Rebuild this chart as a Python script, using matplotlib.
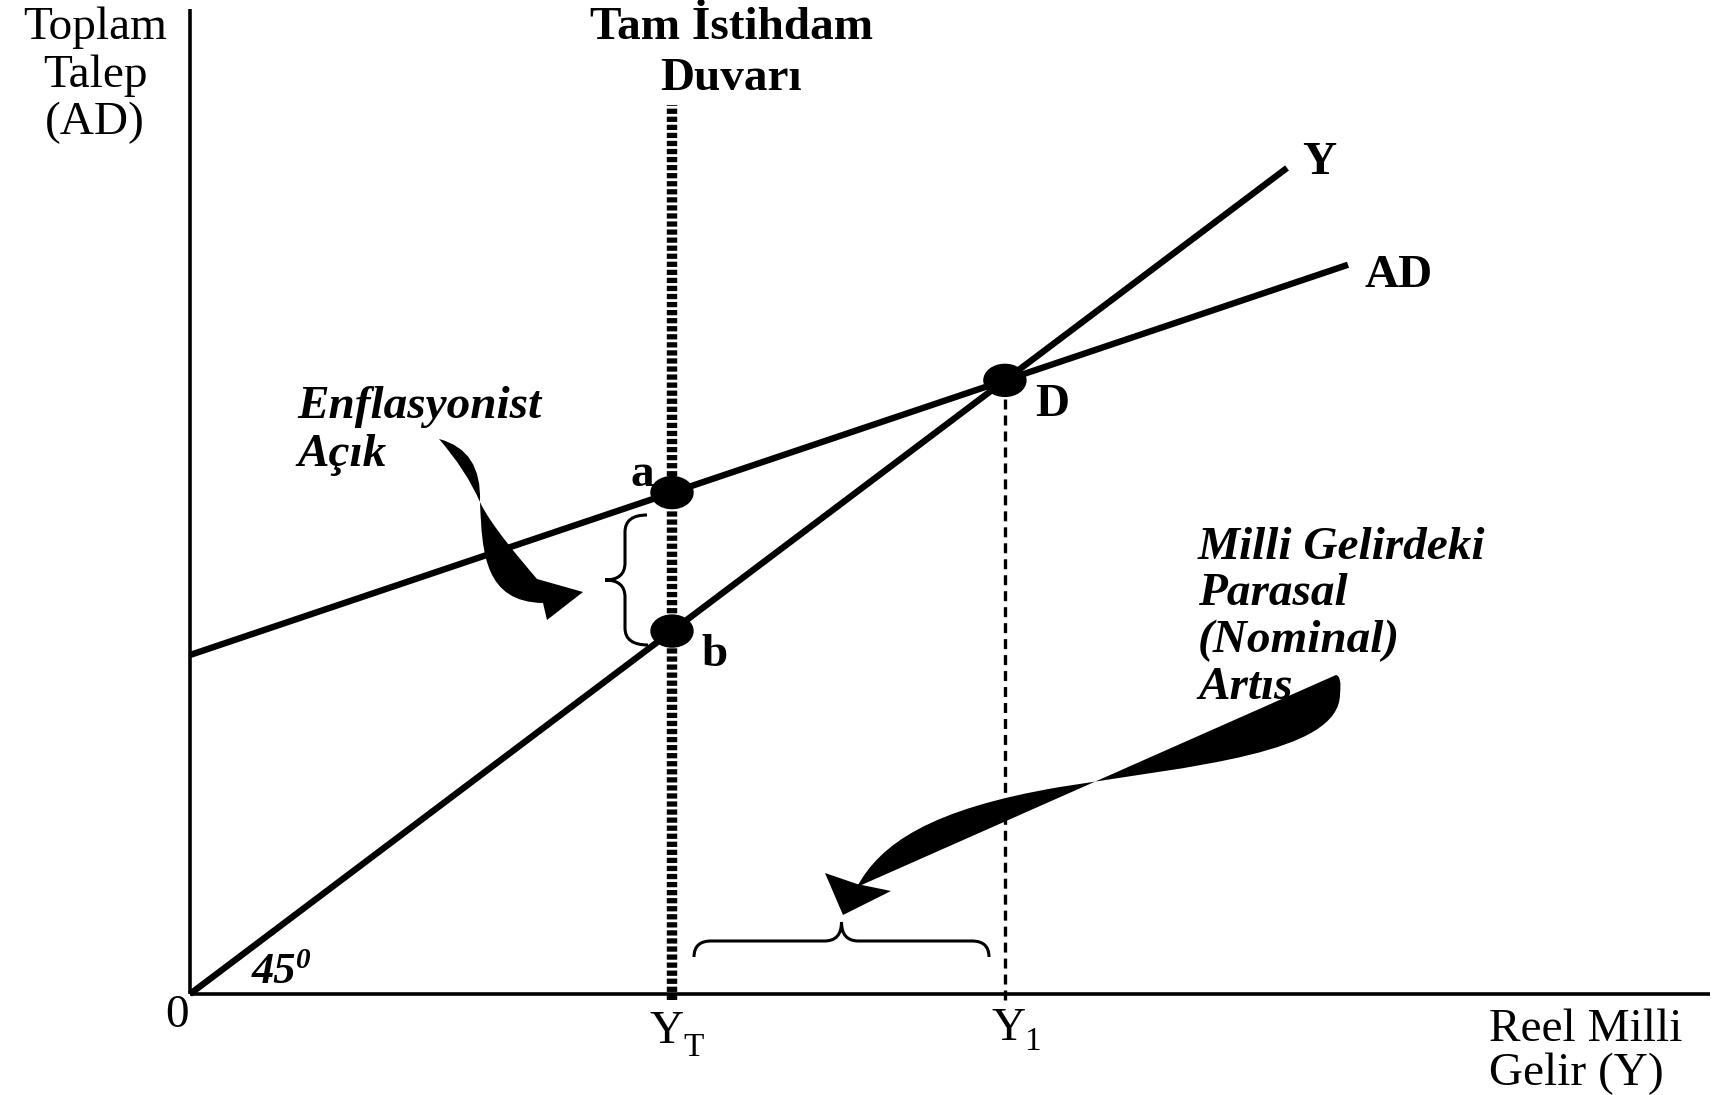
import numpy as np
import matplotlib
matplotlib.use("Agg")
import matplotlib.pyplot as plt
from matplotlib.patches import Ellipse, PathPatch
from matplotlib.path import Path

plt.rcParams['font.family'] = ['Liberation Serif', 'DejaVu Serif']
plt.rcParams['lines.scale_dashes'] = False

# --- diagram values (units: income / demand on a common scale) ---
ad_intercept = 339.0      # autonomous demand
ad_slope = 0.337          # slope of AD
y_slope = 0.753           # the 45 degree line as drawn
y_full = 482.0            # full employment income Y_T
y_line_end = 1097.0
ad_line_end = 1158.0
x_axis_end = 1520.0
y_axis_top = 985.0
wall_top = 889.0

# equilibrium D
y_one = ad_intercept / (y_slope - ad_slope)
d_level = y_slope * y_one
a_level = ad_intercept + ad_slope * y_full
b_level = y_slope * y_full

# outline of the arrow "Milli Gelirdeki ... Artıs" (bezier vertices)
nominal_pts = [(1146, 319), (667, 107),
               (690, 150), (740, 185), (870, 207),
               (1000, 228), (1150, 240), (1150, 300),
               (1152, 318), (1146, 319)]
nominal_codes = [Path.MOVETO, Path.LINETO,
                 Path.CURVE4, Path.CURVE4, Path.CURVE4,
                 Path.CURVE4, Path.CURVE4, Path.CURVE4,
                 Path.CURVE3, Path.CURVE3]
nominal_head_x = [635, 667, 701, 653]
nominal_head_y = [121, 110, 103, 79]

# outline of the arrow "Enflasyonist Açık" (bezier vertices)
gap_pts = [(249, 555),
           (276, 524), (290, 492),
           (292, 440), (295, 392), (353, 391),
           (357, 374), (393, 402), (347, 415),
           (330, 435), (300, 470), (290, 492),
           (292, 544), (249, 555)]
gap_codes = [Path.MOVETO,
             Path.CURVE3, Path.CURVE3,
             Path.CURVE4, Path.CURVE4, Path.CURVE4,
             Path.LINETO, Path.LINETO, Path.LINETO,
             Path.CURVE4, Path.CURVE4, Path.CURVE4,
             Path.CURVE3, Path.CURVE3]


def brace(x0, x1, y0, y1, tip, stem, r, vertical=True):
    # curly brace between two ends, tip on the far side of the stem
    mid = (y0 + y1) / 2 if vertical else (x0 + x1) / 2
    if vertical:
        sgn = 1 if y1 > y0 else -1
        pts = [(x0, y0), (stem, y0), (stem, y0 + sgn * r),
               (stem, mid - sgn * r), (stem, mid), (tip, mid),
               (stem, mid), (stem, mid + sgn * r),
               (stem, y1 - sgn * r), (stem, y1), (x1, y1)]
    else:
        sgn = 1 if x1 > x0 else -1
        pts = [(x0, y0), (x0, stem), (x0 + sgn * r, stem),
               (mid - sgn * r, stem), (mid, stem), (mid, tip),
               (mid, stem), (mid + sgn * r, stem),
               (x1 - sgn * r, stem), (x1, stem), (x1, y1)]
    codes = [Path.MOVETO, Path.CURVE3, Path.CURVE3, Path.LINETO,
             Path.CURVE3, Path.CURVE3, Path.CURVE3, Path.CURVE3,
             Path.LINETO, Path.CURVE3, Path.CURVE3]
    return Path(pts, codes)


fig = plt.figure(figsize=(17.32, 10.95), dpi=100)
ax = fig.add_axes([0, 0, 1, 1])
ax.set_xlim(-190, 1542)
ax.set_ylim(-101, 994)
ax.axis('off')

# axes
ax.plot([0, 0], [0, y_axis_top], color='k', lw=2.6, solid_capstyle='butt')
ax.plot([0, x_axis_end], [0, 0], color='k', lw=2.6, solid_capstyle='butt')

# full employment wall and Y1 guide
ax.plot([y_full, y_full], [-6, wall_top], color='k', lw=7.5,
        linestyle=(0, (3.8, 2.0)), zorder=2)
ax.plot([y_one, y_one], [-6, d_level], color='k', lw=2.4,
        linestyle=(0, (7.2, 4.3)), zorder=2)

# 45 degree line and aggregate demand
ax.plot([0, y_line_end], [0, y_slope * y_line_end], color='k', lw=4.6,
        solid_capstyle='butt', zorder=3)
ax.plot([0, ad_line_end], [ad_intercept, ad_intercept + ad_slope * ad_line_end],
        color='k', lw=4.6, solid_capstyle='butt', zorder=3)

for px, py in [(y_one, d_level), (y_full, a_level), (y_full, b_level)]:
    ax.add_patch(Ellipse((px, py), 42, 32, color='k', zorder=4))

# braces
ax.add_patch(PathPatch(brace(457, 458, 479, 349, 415, 435, 17),
                       fill=False, lw=2.2, color='k'))
ax.add_patch(PathPatch(brace(504, 799, 37, 37, 72, 53, 17, vertical=False),
                       fill=False, lw=2.2, color='k'))

# curved arrows
ax.add_patch(PathPatch(Path(nominal_pts, nominal_codes), color='k', lw=0, zorder=5))
ax.fill(nominal_head_x, nominal_head_y, color='k', lw=0, zorder=5)
ax.add_patch(PathPatch(Path(gap_pts, gap_codes), color='k', lw=0, zorder=5))

fs = 34
# axis titles
for txt, yy in [("Toplam", 966), ("Talep", 918), ("(AD)", 871)]:
    ax.text(-95, yy, txt, fontsize=fs, ha='center', va='center')
for txt, yy in [("Reel Milli", -36), ("Gelir (Y)", -80)]:
    ax.text(1299, yy, txt, fontsize=fs, ha='left', va='center')
for txt, yy in [("Tam İstihdam", 966), ("Duvarı", 915)]:
    ax.text(541, yy, txt, fontsize=fs, fontweight='bold', ha='center', va='center')

ax.text(-13, -22, "0", fontsize=fs, ha='center', va='center')
ax.text(y_full - 5, -38, "Y", fontsize=fs, ha='center', va='center')
ax.text(y_full + 22, -54, "T", fontsize=24, ha='center', va='center')
ax.text(y_one + 4, -35, "Y", fontsize=fs, ha='center', va='center')
ax.text(y_one + 28, -48, "1", fontsize=24, ha='center', va='center')

# curve labels
ax.text(1129, 831, "Y", fontsize=fs, fontweight='bold', ha='center', va='center')
ax.text(1209, 718, "AD", fontsize=fs, fontweight='bold', ha='center', va='center')
ax.text(y_one + 47, d_level - 25, "D", fontsize=fs, fontweight='bold',
        ha='center', va='center')
ax.text(y_full - 30, a_level + 18, "a", fontsize=fs, fontweight='bold',
        ha='center', va='center')
ax.text(y_full + 42, b_level - 24, "b", fontsize=fs, fontweight='bold',
        ha='center', va='center')

ax.text(62, 22, "45", fontsize=32, fontweight='bold', fontstyle='italic',
        ha='left', va='center')
ax.text(106, 33, "0", fontsize=21, fontweight='bold', fontstyle='italic',
        ha='left', va='center')

for txt, yy in [("Enflasyonist", 587), ("Açık", 539)]:
    ax.text(107, yy, txt, fontsize=fs, fontweight='bold', fontstyle='italic',
            ha='left', va='center')
for txt, yy in [("Milli Gelirdeki", 446), ("Parasal", 400),
                ("(Nominal)", 353), ("Artıs", 306)]:
    ax.text(1008, yy, txt, fontsize=fs, fontweight='bold', fontstyle='italic',
            ha='left', va='center', zorder=1)

fig.savefig("out.png", dpi=100)
